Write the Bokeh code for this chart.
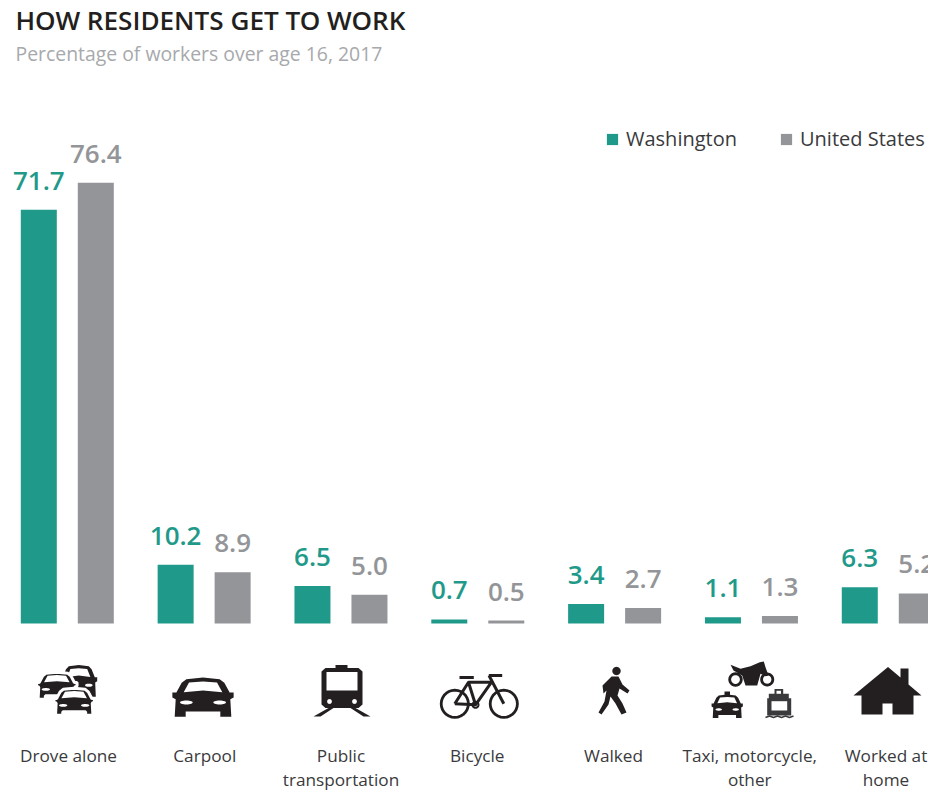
from bokeh.plotting import figure
from bokeh.models import ColumnDataSource, Label, Legend, LegendItem
from bokeh.embed import file_html
from bokeh.resources import INLINE
from bokeh.core.properties import value
import math

categories = ["Drove alone", "Carpool", "Public\ntransportation", "Bicycle", "Walked", "Taxi, motorcycle,\nother", "Worked at\nhome"]
washington = [71.7, 10.2, 6.5, 0.7, 3.4, 1.1, 6.3]
united_states = [76.4, 8.9, 5.0, 0.5, 2.7, 1.3, 5.2]
series_names = ["Washington", "United States"]
title_text = "HOW RESIDENTS GET TO WORK"
subtitle_text = "Percentage of workers over age 16, 2017"

TEAL = "#1f9a8a"
GREY = "#939598"
FONT = "Open Sans"
BOLD = "Open Sans SemiBold"
W, H = 928, 793
STEP = 136.83      # px per category
X0 = 66.8          # page x of the first group centre
PXU = 5.77         # px per percentage point
Y0 = 623           # page y of the zero line

def X(px):
    return (px - X0) / STEP
def Y(py):
    return (Y0 - py) / PXU

p = figure(width=W, height=H, output_backend="svg", toolbar_location=None,
           x_range=(X(0), X(W)), y_range=(Y(H), Y(0)),
           min_border=0, min_border_left=0, min_border_right=0, min_border_top=0, min_border_bottom=0)
p.axis.visible = False
p.grid.visible = False
p.outline_line_color = None
p.background_fill_color = "white"

idx = list(range(len(categories)))
bw = 36 / STEP
off = 28.5 / STEP
src_w = ColumnDataSource(dict(x=[i - off for i in idx], top=washington, lab=[f"{v:.1f}" for v in washington]))
src_u = ColumnDataSource(dict(x=[i + off for i in idx], top=united_states, lab=[f"{v:.1f}" for v in united_states]))
r_w = p.vbar(x="x", top="top", bottom=0, width=bw, source=src_w, fill_color=TEAL, line_color=None)
r_u = p.vbar(x="x", top="top", bottom=0, width=bw, source=src_u, fill_color=GREY, line_color=None)
for s, c in ((src_w, TEAL), (src_u, GREY)):
    p.text(x="x", y="top", text="lab", source=s, text_color=c, text_font=value(BOLD),
           text_font_size="26px", text_align="center", text_baseline="alphabetic", y_offset=-29)

p.text(x=[X(68 + 136.25 * i) for i in idx], y=[Y(743)] * len(idx), text=categories, text_color="#3a3a3c", text_font=value(FONT),
       text_font_size="17.2px", text_align="center", text_baseline="top", text_line_height=1.05)

# ---- pictograms ----
shapes = []   # (xs, ys, fill, line, line_width)
lines = []    # (xs, ys, color, width)
INK = "#231f20"

def poly(pts, fill=INK, line=None, lw=0):
    shapes.append(([X(a) for a, b in pts], [Y(b) for a, b in pts], fill, line, lw))

def ell(cx, cy, rx, ry, fill=INK, line=None, lw=0, n=28):
    pts = [(cx + rx * math.cos(2 * math.pi * k / n), cy + ry * math.sin(2 * math.pi * k / n)) for k in range(n)]
    poly(pts, fill, line, lw)

def seg(pts, color=INK, width=3):
    lines.append(([X(a) for a, b in pts], [Y(b) for a, b in pts], color, width))

CAR = [(-50, 5), (0, 0), (50, 5), (64, 16), (80, 45), (92, 45), (92, 60), (82, 65), (85, 118), (52, 118), (52, 102),
       (-52, 102), (-52, 118), (-85, 118), (-82, 65), (-92, 60), (-92, 45), (-80, 45), (-64, 16)]
GLASS = [(-42, 15), (0, 12), (42, 15), (58, 44), (0, 39), (-58, 44)]

def car(cx, top, sx, sy=None, halo=False):
    sy = sy or sx
    T = lambda q: [(cx + a * sx, top + b * sy) for a, b in q]
    poly(T(CAR), line="white" if halo else None, lw=3 if halo else 0)
    poly(T(GLASS), "white")
    for s in (-1, 1):
        ell(cx + s * 50 * sx, top + 75 * sy, 19 * sx, 6 * sy, "white")

# drove alone
car(78.3, 664.5, 0.2, 0.27)
car(56.3, 671.7, 0.22, 0.23, halo=True)
car(73.7, 687.7, 0.22, 0.23, halo=True)
# carpool
car(202.5, 677, 0.333)
# train
poly([(335, 664.5), (347, 664.5), (347, 667.5), (358, 667.5), (362, 671), (362, 704), (358, 707.5), (325, 707.5), (321, 704), (321, 671), (325, 667.5), (335, 667.5)])
poly([(326, 671.5), (357, 671.5), (357, 690), (326, 690)], "white")
ell(329, 701, 2.4, 2.4, "white")
ell(354, 701, 2.4, 2.4, "white")
poly([(313, 716), (328, 707.5), (333, 707.5), (320, 716)])
poly([(370, 716), (355, 707.5), (350, 707.5), (363, 716)])
# bicycle
ell(454.3, 703.3, 13.6, 13.6, None, INK, 2.8)
ell(503.3, 703.3, 13.6, 13.6, None, INK, 2.8)
seg([(454.3, 703.3), (468, 681.7), (491, 681.7), (475, 704.3), (454.3, 703.3)])
seg([(468, 681.7), (475, 704.3)])
seg([(488.5, 675), (503.3, 703.3)])
seg([(459, 677), (473.3, 677)])
seg([(488.3, 675), (501.7, 675)])
ell(475, 704.3, 3, 3, "white", INK, 2)
# walker
ell(616, 670.5, 4.2, 4.2)
poly([(611, 676), (618, 676), (622, 684), (629, 690), (627, 693), (619, 688), (617, 695), (622, 703), (626, 712), (621, 714),
      (615, 703), (610, 696), (608, 704), (601, 714), (598, 712), (604, 701), (606, 690), (603, 693), (602, 685)])
# motorcycle
ell(735, 679, 5.8, 5.8, None, INK, 2.8)
ell(766.7, 679, 5.6, 5.6, None, INK, 2.8)
poly([(730, 664.3), (740, 668.3), (750, 665.7), (759.3, 661.7), (763.3, 661), (765, 666.7), (768, 675), (765, 675.7), (760, 673.3),
      (756.7, 685), (745, 685), (741.7, 675), (733, 670)])
# taxi
poly([(724, 691), (729.5, 691), (729.5, 695), (724, 695)])
car(726.7, 694, 0.17, 0.2)
# ferry
FERRY = "#3a3a3c"
poly([(774, 688.5), (782.7, 688.5), (782.7, 693.3), (788.3, 693.3), (788.3, 697.7), (790.7, 697.7), (790.7, 715), (766.7, 715), (766.7, 697.7), (768.3, 697.7), (768.3, 693.3), (774, 693.3)], FERRY)
poly([(776, 690.3), (780.5, 690.3), (780.5, 693.3), (776, 693.3)], "white")
poly([(771, 700.7), (786.7, 700.7), (786.7, 710), (771, 710)], "white")
seg([(765, 717), (769, 715.5), (773, 717), (777, 715.5), (781, 717), (785, 715.5), (789, 717), (793, 715.5)], FERRY, 1.5)
# house
poly([(887.5, 666.5), (900, 677), (900, 668), (908, 668), (908, 684), (921, 695), (913, 695), (913, 714), (892, 714), (892, 703),
      (882, 703), (882, 714), (861, 714), (861, 695), (853, 695)])

p.patches(xs=[s[0] for s in shapes], ys=[s[1] for s in shapes], fill_color=[s[2] or "white" for s in shapes],
          fill_alpha=[0 if s[2] is None else 1 for s in shapes],
          line_color=[s[3] or "white" for s in shapes], line_alpha=[0 if s[3] is None else 1 for s in shapes],
          line_width=[s[4] for s in shapes])
p.multi_line(xs=[l[0] for l in lines], ys=[l[1] for l in lines], line_color=[l[2] for l in lines], line_width=[l[3] for l in lines])

# ---- title, subtitle, legend ----
p.add_layout(Label(x=15, y=H - 19, x_units="screen", y_units="screen", text=title_text, text_font=BOLD,
                   text_font_size="26.1px", text_color="#231f20", text_baseline="alphabetic"))
p.add_layout(Label(x=15, y=H - 53, x_units="screen", y_units="screen", text=subtitle_text, text_font=FONT,
                   text_font_size="19.4px", text_color="#a7a9ac", text_baseline="alphabetic"))

legend = Legend(items=[LegendItem(label=series_names[0], renderers=[r_w]), LegendItem(label=series_names[1], renderers=[r_u])],
                orientation="horizontal", location=(605, H - 152), border_line_color=None, background_fill_alpha=0,
                glyph_width=14, glyph_height=14, label_standoff=7, spacing=42, padding=3, margin=0,
                label_text_font=FONT, label_text_font_size="20px", label_text_color="#3a3a3c")
p.add_layout(legend, "center")

open("out.html", "w").write(file_html(p, INLINE))
